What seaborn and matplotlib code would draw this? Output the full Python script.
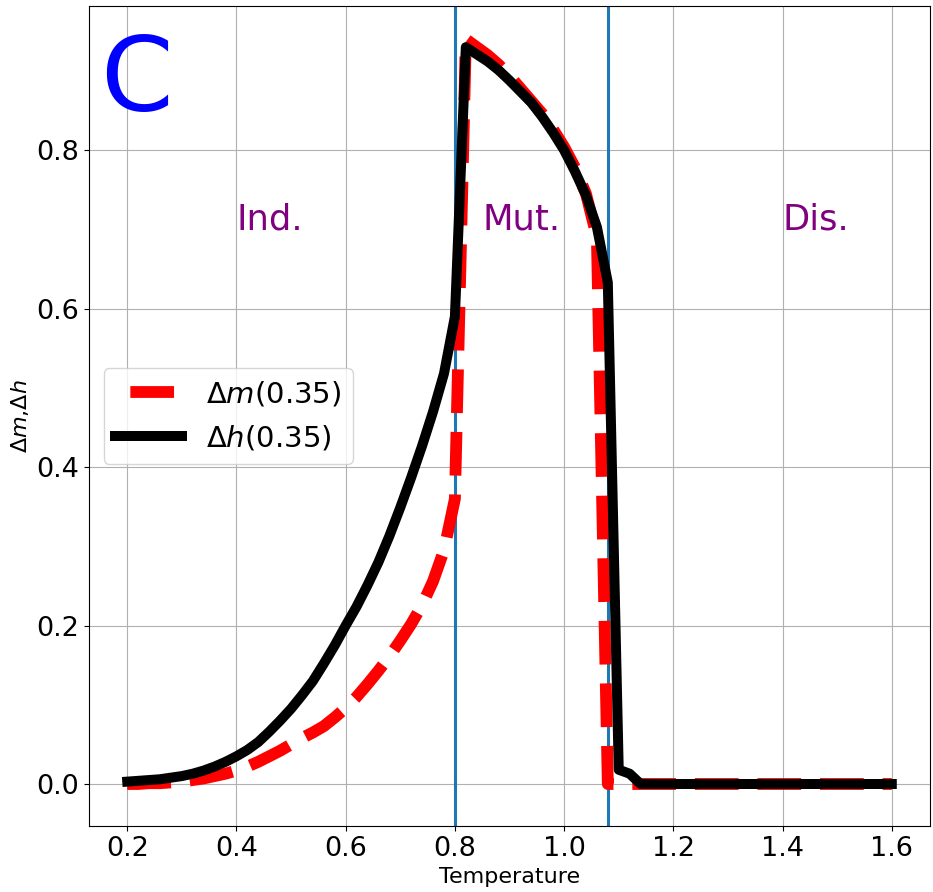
import numpy as np
import pandas as pd
import matplotlib
matplotlib.use("Agg")
import matplotlib.pyplot as plt
import seaborn as sns

# === Data ===
temperature = [
    0.20, 0.22, 0.24, 0.26, 0.28, 0.30, 0.32, 0.34, 0.36, 0.38,
    0.40, 0.42, 0.44, 0.46, 0.48, 0.50, 0.52, 0.54, 0.56, 0.58,
    0.60, 0.62, 0.64, 0.66, 0.68, 0.70, 0.72, 0.74, 0.76, 0.78,
    0.80, 0.82, 0.84, 0.86, 0.88, 0.90, 0.92, 0.94, 0.96, 0.98,
    1.00, 1.02, 1.04, 1.06, 1.08, 1.10, 1.12, 1.14, 1.16, 1.18,
    1.20, 1.22, 1.24, 1.26, 1.28, 1.30, 1.32, 1.34, 1.36, 1.38,
    1.40, 1.42, 1.44, 1.46, 1.48, 1.50, 1.52, 1.54, 1.56, 1.58,
    1.60,
]
delta_m = [
    0.000, 0.000, 0.001, 0.001, 0.002, 0.003, 0.005, 0.007, 0.010, 0.013,
    0.017, 0.022, 0.028, 0.035, 0.042, 0.050, 0.058, 0.065, 0.073, 0.084,
    0.096, 0.110, 0.126, 0.143, 0.161, 0.181, 0.202, 0.226, 0.256, 0.295,
    0.360, 0.940, 0.930, 0.920, 0.908, 0.894, 0.878, 0.862, 0.846, 0.826,
    0.804, 0.778, 0.745, 0.690, 0.000, 0.000, 0.000, 0.000, 0.000, 0.000,
    0.000, 0.000, 0.000, 0.000, 0.000, 0.000, 0.000, 0.000, 0.000, 0.000,
    0.000, 0.000, 0.000, 0.000, 0.000, 0.000, 0.000, 0.000, 0.000, 0.000,
    0.000,
]
delta_h = [
    0.003, 0.004, 0.005, 0.006, 0.008, 0.010, 0.013, 0.017, 0.022, 0.028,
    0.035, 0.043, 0.053, 0.066, 0.080, 0.095, 0.112, 0.130, 0.152, 0.175,
    0.200, 0.224, 0.251, 0.280, 0.313, 0.349, 0.387, 0.427, 0.470, 0.518,
    0.590, 0.930, 0.921, 0.912, 0.901, 0.888, 0.874, 0.860, 0.842, 0.822,
    0.800, 0.773, 0.743, 0.703, 0.633, 0.018, 0.013, 0.000, 0.000, 0.000,
    0.000, 0.000, 0.000, 0.000, 0.000, 0.000, 0.000, 0.000, 0.000, 0.000,
    0.000, 0.000, 0.000, 0.000, 0.000, 0.000, 0.000, 0.000, 0.000, 0.000,
    0.000,
]
transitions = [0.80, 1.08]
phase_labels = ["Ind.", "Mut.", "Dis."]
phase_x = [0.40, 0.85, 1.40]
phase_y = 0.70

df = pd.DataFrame({"T": temperature, "dm": delta_m, "dh": delta_h})

# === Figure ===
fig = plt.figure(figsize=(9.33, 8.92), dpi=100)
ax = fig.add_axes([0.0954, 0.074, 0.9014, 0.9193])

for t in transitions:
    ax.axvline(t, color="#1f77b4", lw=2.2)

sns.lineplot(data=df, x="T", y="dm", color="red", lw=8.5, linestyle="--",
             label=r"$\Delta m(0.35)$", ax=ax)
sns.lineplot(data=df, x="T", y="dh", color="black", lw=7.2,
             label=r"$\Delta h(0.35)$", ax=ax)

ax.text(0.15, 0.85, "C", color="blue", fontsize=75)
for lab, xx in zip(phase_labels, phase_x):
    ax.text(xx, phase_y, lab, color="purple", fontsize=25.5)

ax.set_xlim(0.13, 1.67)
ax.set_ylim(-0.053, 0.982)
ax.set_xticks([0.2, 0.4, 0.6, 0.8, 1.0, 1.2, 1.4, 1.6])
ax.set_yticks([0.0, 0.2, 0.4, 0.6, 0.8])
ax.tick_params(labelsize=19.5)
ax.grid(True, color="#b0b0b0", lw=0.8)
ax.set_xlabel("Temperature", fontsize=16)
ax.set_ylabel(r"$\Delta m$,$\Delta h$", fontsize=16)

leg = ax.legend(loc="center left", fontsize=21, handlelength=2.3)
# single long dash in the legend handle, like the reference
leg.get_lines()[0].set_linestyle((4.0, (3.7, 1.6)))

fig.savefig("out.png", dpi=100)
